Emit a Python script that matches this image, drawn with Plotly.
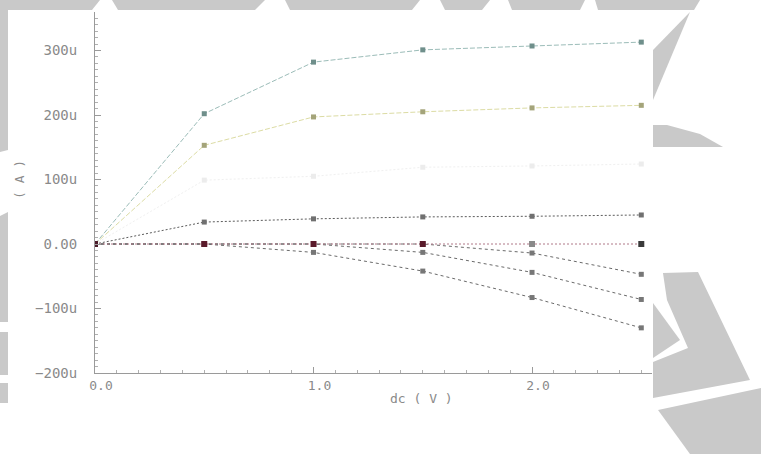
import plotly.graph_objects as go

# ---- data (current in micro-amps, sweep in volts) ----
x_v = [0.0, 0.5, 1.0, 1.5, 2.0, 2.5]
i_teal = [0, 202, 282, 301, 307, 313]
i_yellow = [0, 153, 197, 205, 211, 215]
i_faint = [0, 99, 105, 119, 121, 124]
i_dark = [0, 34, 39, 42, 43, 45]
i_d1 = [0, 0, 0, 0, -14, -47]
i_d2 = [0, 0, 0, -13, -44, -86]
i_d3 = [0, 0, -13, -42, -83, -130]
i_zero = [0, 0, 0, 0, 0, 0]

y_tickvals = [-200, -100, 0, 100, 200, 300]
y_ticktext = ["−200u", "−100u", "0.00", "100u", "200u", "300u"]
x_tickvals = [0, 1, 2]
x_ticktext = ["0.0", "1.0", "2.0"]

W, H = 761, 454
L, R, T, B = 95, 109, 12, 81
PW, PH = W - L - R, H - T - B


def px(xp, yp):
    return ((xp - L) / PW, (H - B - yp) / PH)


def poly(points):
    pts = [px(a, b) for a, b in points]
    d = "M " + " L ".join(f"{a:.4f},{b:.4f}" for a, b in pts) + " Z"
    return dict(type="path", xref="paper", yref="paper", path=d,
                fillcolor="#c9c9c9", line=dict(width=0), layer="below")


fig = go.Figure()


def add(y, line_color, marker_color, dash="2px,2px", msize=5, width=1):
    fig.add_trace(go.Scatter(
        x=x_v, y=y, mode="lines+markers",
        line=dict(color=line_color, width=width, dash=dash),
        marker=dict(symbol="square", size=msize, color=marker_color),
        showlegend=False, hoverinfo="skip"))


add(i_faint, "#f0f0f0", "#ececec")
add(i_teal, "#9bbcb8", "#6f8f8b", dash="5px,2px")
add(i_yellow, "#dcdca4", "#a4a47a", dash="5px,2px")
add(i_dark, "#5c5c5c", "#707070", dash="2px,2px")
add(i_d3, "#6a6a6a", "#777777", dash="3px,3px")
add(i_d2, "#6a6a6a", "#777777", dash="3px,3px")
add(i_d1, "#6a6a6a", "#777777", dash="3px,3px")
fig.add_trace(go.Scatter(
    x=x_v, y=i_zero, mode="lines+markers",
    line=dict(color="#b07888", width=1, dash="2px,2px"),
    marker=dict(symbol="square", size=6,
                color=["#4a1a28", "#5a1a2a", "#5a1a2a", "#5a1a2a", "#8a8a8a", "#3a3a3a"]),
    showlegend=False, hoverinfo="skip"))

shapes = [
    # top band
    poly([(0, 0), (100, 0), (92, 10), (0, 10)]),
    poly([(112, 0), (265, 0), (255, 10), (118, 10)]),
    poly([(285, 0), (420, 0), (412, 10), (290, 10)]),
    poly([(440, 0), (490, 0), (482, 10), (445, 10)]),
    poly([(508, 0), (585, 0), (580, 10), (512, 10)]),
    poly([(595, 0), (700, 0), (694, 10), (598, 10)]),
    # left strips
    poly([(0, 10), (8, 10), (8, 150), (0, 152)]),
    poly([(0, 216), (8, 212), (8, 322), (0, 322)]),
    poly([(0, 332), (8, 332), (8, 375), (0, 375)]),
    poly([(0, 383), (8, 383), (8, 403), (0, 403)]),
    # right side
    poly([(653, 50), (690, 12), (653, 100)]),
    poly([(653, 125), (667, 125), (700, 134), (723, 147), (653, 147)]),
    poly([(663, 273), (698, 272), (750, 380), (653, 398), (653, 362),
          (688, 348), (667, 300)]),
    poly([(653, 303), (680, 340), (653, 358)]),
    poly([(658, 410), (761, 388), (761, 454), (690, 454)]),
]

yfont = dict(family="DejaVu Sans Mono", size=14, color="#8a8a8a")
xfont = dict(family="DejaVu Sans Mono", size=13, color="#8a8a8a")
tfont = dict(family="DejaVu Sans Mono", size=13, color="#8a8a8a")

ax, ay = px(19, 180)
bx, by = px(421, 398)
annotations = [
    dict(text="( A )", x=ax, y=ay, xref="paper", yref="paper", showarrow=False,
         textangle=-90, font=tfont, xanchor="center", yanchor="middle"),
    dict(text="dc ( V )", x=bx, y=by, xref="paper", yref="paper", showarrow=False,
         font=tfont, xanchor="center", yanchor="middle"),
]

fig.update_layout(
    width=W, height=H,
    margin=dict(l=L, r=R, t=T, b=B, pad=0),
    paper_bgcolor="white", plot_bgcolor="white",
    font=xfont,
    shapes=shapes,
    annotations=annotations,
    xaxis=dict(range=[0, 2.549], showgrid=False, zeroline=False,
               showline=True, linecolor="#9a9a9a", linewidth=1,
               tickmode="array", tickvals=x_tickvals, ticktext=x_ticktext,
               ticks="inside", ticklen=6, tickcolor="#9a9a9a",
               ticklabelstandoff=0, ticklabelshift=6,
               minor=dict(tickmode="linear", tick0=0, dtick=0.1, ticks="inside",
                          ticklen=3, tickcolor="#b0b0b0"),
               tickfont=xfont, fixedrange=True),
    yaxis=dict(range=[-200, 359.7], showgrid=False, zeroline=False,
               showline=True, linecolor="#9a9a9a", linewidth=1,
               tickmode="array", tickvals=y_tickvals, ticktext=y_ticktext,
               ticks="inside", ticklen=6, tickcolor="#9a9a9a",
               ticklabelstandoff=14,
               minor=dict(tickmode="linear", tick0=0, dtick=10, ticks="inside",
                          ticklen=3, tickcolor="#b0b0b0"),
               tickfont=yfont, fixedrange=True),
)

fig.write_html(
    "out.html",
    config={"displayModeBar": False},
    post_script="document.body.style.margin='0';document.body.style.overflow='hidden';",
)
